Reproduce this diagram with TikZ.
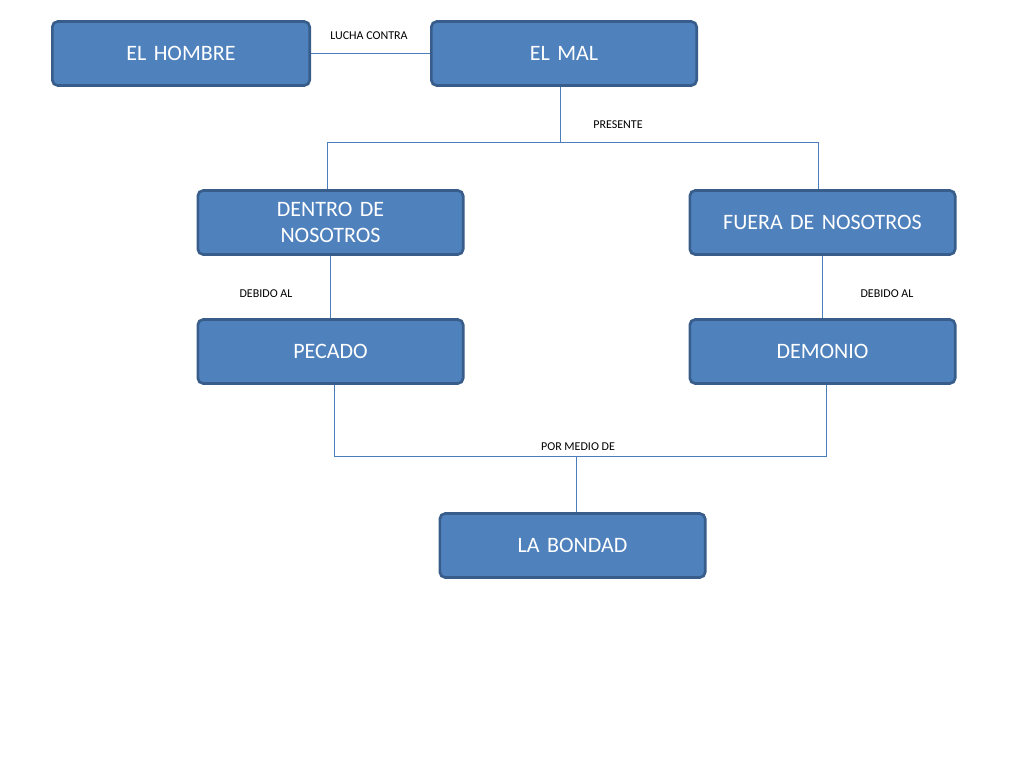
\documentclass[tikz,border=0pt]{standalone}
\usepackage{fontspec}
\setmainfont{Carlito}
\usetikzlibrary{calc}
\definecolor{boxfill}{HTML}{4F81BD}
\definecolor{boxline}{HTML}{385D8A}
\definecolor{wire}{HTML}{4A7EBB}
\tikzset{
  concept/.style={shape=rectangle,draw=boxline,fill=boxfill,line width=2pt,rounded corners=4pt,
    minimum width=199pt,minimum height=48pt,text=white,align=center,text width=180pt,
    font=\fontsize{16.5}{19}\selectfont},
  tag/.style={font=\fontsize{9}{10}\selectfont,text=black},
  link/.style={draw=wire,line width=0.6pt}
}
\begin{document}
\begin{tikzpicture}[x=0.75pt,y=-0.75pt]
	\useasboundingbox (0,0) rectangle (1024,768);
	\node (hombre) [concept,minimum width=193pt] at (181,53.5) {EL HOMBRE};
	\node (mal) [concept] at (564,53.5) {EL MAL};
	\node (dentro) [concept] at (330.5,222.5) {DENTRO DE\\NOSOTROS};
	\node (fuera) [concept] at (822.5,222.5) {FUERA DE NOSOTROS};
	\node (pecado) [concept] at (330.5,351.5) {PECADO};
	\node (demonio) [concept] at (822.5,351.5) {DEMONIO};
	\node (bondad) [concept] at (572.5,545.5) {LA BONDAD};
	\coordinate (split) at (560,142);
	\coordinate (join) at (576,456);
	\draw[link] (hombre) -- (mal);
	\node[tag] at (369,36) {LUCHA CONTRA};
	\draw[link] (mal.south -| split) -- (split);
	\draw[link] (split) -| ($(dentro.north)+(-3.5,0)$);
	\draw[link] (split) -| ($(fuera.north)+(-4.5,0)$);
	\node[tag] at (618,125) {PRESENTE};
	\draw[link] (dentro) -- (pecado);
	\node[tag] at (266,294) {DEBIDO AL};
	\draw[link] (fuera) -- (demonio);
	\node[tag] at (887,294) {DEBIDO AL};
	\draw[link] ($(pecado.south)+(3.5,0)$) |- (join);
	\draw[link] ($(demonio.south)+(3.5,0)$) |- (join);
	\draw[link] (join) -- (bondad.north -| join);
	\node[tag] at (578,447) {POR MEDIO DE};
\end{tikzpicture}
\end{document}
